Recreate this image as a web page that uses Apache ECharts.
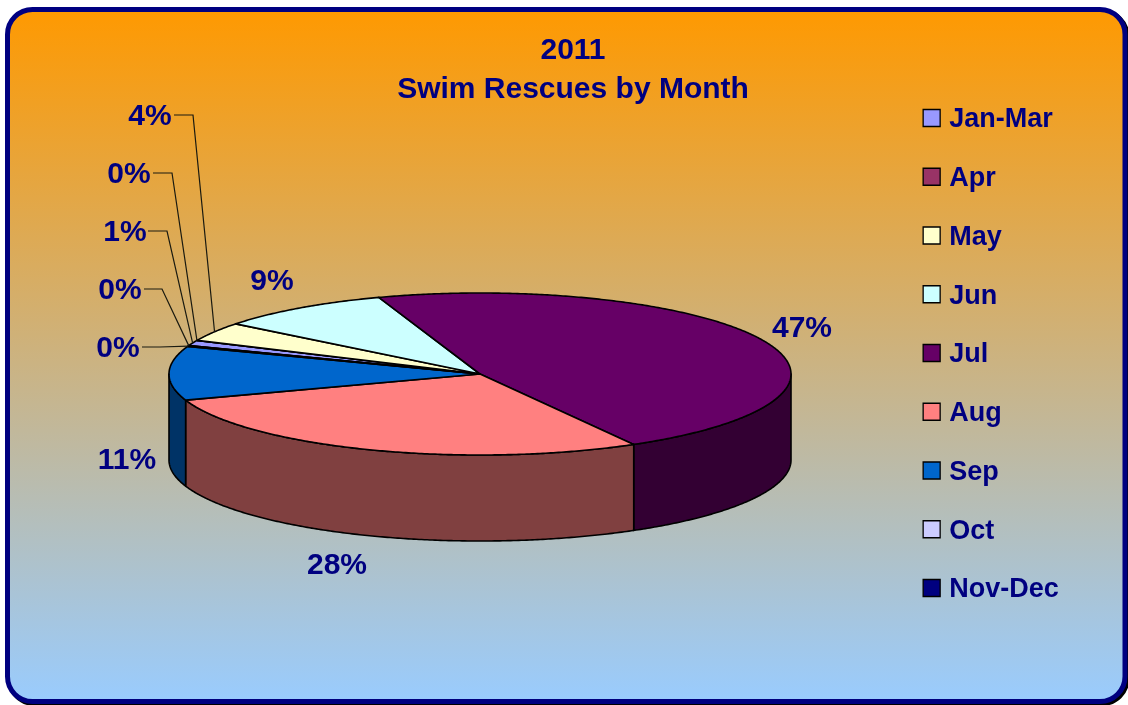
<!DOCTYPE html>
<html>
<head>
<meta charset="utf-8">
<style>html,body{margin:0;padding:0;background:#fff}#c{width:1128px;height:705px}</style>
<script src="https://cdn.jsdelivr.net/npm/echarts@6/dist/echarts.min.js"></script>
</head>
<body>
<div id="c"></div>
<script>
// ---- data (share of the year, %) ----
const months = ['Jan-Mar','Apr','May','Jun','Jul','Aug','Sep','Oct','Nov-Dec'];
const shares = [1.05,0.05,3.8,9.1,47.05,28,10.75,0.15,0.05];
const topColors  = ['#9999FF','#993366','#FFFFCC','#CCFFFF','#660066','#FF8080','#0066CC','#CCCCFF','#000080'];
const wallColors = ['#4D4D80','#4D1A33','#808066','#668080','#330033','#804040','#003366','#666680','#000040'];
// label centres [x, y]
const labelCentres = [[125,233],[129,175],[150,117],[272,282],[802,329],[337,566],[127,461],[118,349],[120,291]];
// leader line: [start x, elbow x, y], null = no leader
const leaders = [[148,167,231],[153,172,173],[174,193,115],null,null,null,null,[142,160,347],[144,162,289]];

const FONT = '"Liberation Sans", Arial, sans-serif';
const NAVY = '#000080';
const CX = 480, CY = 374, RX = 311, RY = 81, DEPTH = 86, START = 290.6;
const total = shares.reduce((a,b)=>a+b,0);

function pt(deg, dy){
  const r = deg*Math.PI/180;
  return [CX+RX*Math.sin(r), CY-RY*Math.cos(r)+(dy||0)];
}
function arc(a,b,dy){
  const n = Math.max(2,Math.ceil(Math.abs(b-a)*2)), out=[];
  for(let i=0;i<=n;i++) out.push(pt(a+(b-a)*i/n,dy));
  return out;
}
function sliceRange(i){
  let s = START;
  for(let k=0;k<i;k++) s += shares[k]/total*360;
  return [s, s+shares[i]/total*360];
}
function render(i){
  return function(){
    const [a,b] = sliceRange(i), children = [];
    [[90,270],[450,630]].forEach(function(w){
      const lo=Math.max(a,w[0]), hi=Math.min(b,w[1]);
      if(hi>lo){
        children.push({type:'polygon',
          shape:{points:arc(lo,hi,0).concat(arc(hi,lo,DEPTH))},
          style:{fill:wallColors[i],stroke:'#000',lineWidth:1.6,lineJoin:'round'}});
      }
    });
    children.push({type:'polygon',
      shape:{points:[[CX,CY]].concat(arc(a,b,0))},
      style:{fill:topColors[i],stroke:'#000',lineWidth:1.6,lineJoin:'round'}});
    const c = labelCentres[i], l = leaders[i];
    if(l){
      children.push({type:'polyline',z2:5,
        shape:{points:[[l[0],l[2]],[l[1],l[2]],pt((a+b)/2,0)]},
        style:{fill:null,stroke:'#1a1a10',lineWidth:1.2}});
    }
    children.push({type:'text',z2:6,x:c[0],y:c[1],
      style:{text:Math.round(shares[i]/total*100)+'%',x:0,y:0,align:'center',verticalAlign:'middle',
        fill:NAVY,font:'bold 30px '+FONT}});
    return {type:'group',children:children};
  };
}

const legendText = {color:NAVY,fontFamily:FONT,fontWeight:'bold',fontSize:27,lineHeight:27};
const chart = echarts.init(document.getElementById('c'),null,{renderer:'canvas'});
chart.setOption({
  animation:false,
  backgroundColor:'#fff',
  graphic:[
    {type:'rect',z:-10,silent:true,shape:{x:9.5,y:11.5,width:1117.5,height:692,r:25},style:{fill:'#000',stroke:'#000',lineWidth:5}},
    {type:'rect',z:-9,silent:true,shape:{x:7.5,y:9.5,width:1117.5,height:692,r:25},
      style:{stroke:NAVY,lineWidth:5,
        fill:new echarts.graphic.LinearGradient(0,0,0,1,[{offset:0,color:'#FF9900'},{offset:1,color:'#99CCFF'}])}}
  ],
  title:{text:'2011\nSwim Rescues by Month',left:573,top:31,textAlign:'center',padding:0,
    textStyle:{color:NAVY,fontFamily:FONT,fontWeight:'bold',fontSize:30,lineHeight:39}},
  legend:{orient:'vertical',left:922.5,top:102.5,padding:0,itemWidth:17,itemHeight:17,itemGap:27.75,
    selectedMode:false,icon:'rect',data:months,
    itemStyle:{borderColor:'#000',borderWidth:1.3},
    formatter:'{a|{name}}',
    textStyle:Object.assign({rich:{a:Object.assign({padding:[4,0,0,4]},legendText)}},legendText)},
  tooltip:{show:false},
  series:months.map(function(m,i){
    return {type:'custom',name:m,coordinateSystem:'none',silent:true,
      itemStyle:{color:topColors[i]},renderItem:render(i),data:[shares[i]]};
  })
});
</script>
</body>
</html>
